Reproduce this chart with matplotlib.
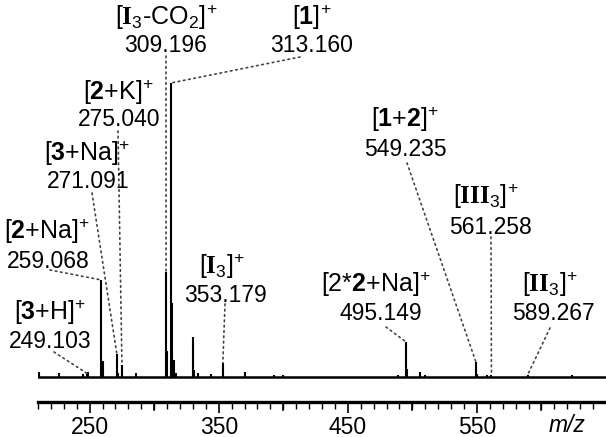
import matplotlib.pyplot as plt

plt.rcParams['font.family'] = ['Liberation Sans', 'DejaVu Sans']
plt.rcParams['mathtext.fontset'] = 'custom'
plt.rcParams['mathtext.rm'] = 'Liberation Sans'
plt.rcParams['mathtext.it'] = 'Liberation Sans:italic'
plt.rcParams['mathtext.bf'] = 'Liberation Sans:bold'
plt.rcParams['mathtext.tt'] = 'Liberation Serif:bold'

# spectrum peaks (m/z, relative intensity)
peak_mz = [210.5, 226, 245, 248, 249.1, 259.07, 260.1, 271.09, 272.1, 275.04,
           286, 309.20, 310.2, 313.16, 314.16, 315.2, 317, 329.9, 331, 334,
           344, 353.18, 370, 393, 400, 489, 495.15, 496.2, 506, 510,
           549.24, 550.2, 558, 561.26, 589.27, 624]
peak_int = [1.7, 1.4, 1.0, 1.0, 1.7, 33.0, 5.5, 7.8, 1.4, 4.1,
            1.4, 35.7, 9.0, 100.0, 25.2, 5.8, 1.4, 13.6, 2.4, 1.4,
            1.0, 4.8, 1.7, 0.7, 0.7, 0.7, 11.9, 2.7, 1.7, 0.7,
            5.1, 1.0, 0.7, 0.7, 0.7, 0.7]

# annotated ions
ion_labels = [r'[$\mathbf{3}$+H$]^{+}$', r'[$\mathbf{2}$+Na$]^{+}$', r'[$\mathbf{3}$+Na$]^{+}$',
              r'[$\mathbf{2}$+K$]^{+}$', r'[$\mathtt{I}_3$-CO$_2]^{+}$', r'[$\mathbf{1}]^{+}$',
              r'[$\mathtt{I}_3]^{+}$', r'[2*$\mathbf{2}$+Na$]^{+}$', r'[$\mathbf{1}$+$\mathbf{2}]^{+}$',
              r'[$\mathtt{III}_3]^{+}$', r'[$\mathtt{II}_3]^{+}$']
ion_mz = ['249.103', '259.068', '271.091', '275.040', '309.196', '313.160',
          '353.179', '495.149', '549.235', '561.258', '589.267']
ion_int = [0.9, 33.0, 7.8, 4.1, 35.7, 100.0, 4.8, 11.9, 5.1, 0.7, 0.7]

# label placement in pixels: label x, label y, number x, number y, leader start x, y
label_pos = [(50, 312, 50, 342, 54, 352),
             (47, 231, 48, 261, 50, 270),
             (87, 153, 88, 181, 92, 193),
             (118, 92, 119, 119, 118, 131),
             (166, 17, 166, 46, 166, 56),
             (312, 17, 312, 46, 300, 57),
             (222, 266, 225, 295, 225, 304),
             (376, 284, 381, 314, 386, 327),
             (405, 119, 405, 149, 407, 163),
             (486, 196, 490, 227, 491, 237),
             (550, 284, 553, 314, 550, 328)]

W, H = 606, 437
fig = plt.figure(figsize=(W / 100, H / 100), dpi=100)
ax = fig.add_axes([38 / W, 35 / H, 568 / W, 402 / H])
ax.set_xlim(210, 650)
ax.set_ylim(-8.5, 128.2)

ax.axhline(0, color='black', lw=1.8, zorder=2)
ax.vlines(peak_mz, 0, peak_int, color='black', lw=1.5, zorder=2)

for s in ['top', 'right', 'left']:
    ax.spines[s].set_visible(False)
ax.spines['bottom'].set_linewidth(2.4)
ax.set_yticks([])
ax.set_xticks([250, 350, 450, 550])
ax.set_xticks(range(210, 650, 10), minor=True)
ax.tick_params(axis='x', which='major', direction='out', length=8, width=1.2,
               labelsize=16.5, pad=2)
ax.tick_params(axis='x', which='minor', direction='out', length=5, width=1.0)
# unlabeled majors at 300, 400, ...
for m in [300, 400, 500, 600]:
    ax.plot([m, m], [-8.5, -11.2], color='black', lw=1.2, clip_on=False)

for lab, num, inten, mz, pos in zip(ion_labels, ion_mz, ion_int, ion_mz, label_pos):
    lx, ly, nx, ny, sx, sy = pos
    fig.text(lx / W, 1 - ly / H, lab, ha='center', va='center', fontsize=18)
    fig.text(nx / W, 1 - ny / H, num, ha='center', va='center', fontsize=16.5)
    ax.annotate('', xy=(float(mz), inten), xycoords='data',
                xytext=(sx / W, 1 - sy / H), textcoords='figure fraction',
                arrowprops=dict(arrowstyle='-', linestyle=(0, (1, 2.2)), color='#444444',
                                lw=1.2, shrinkA=0, shrinkB=0))

fig.text(567 / W, 1 - 426 / H, 'm/z', style='italic', ha='center', va='center', fontsize=16.5)

fig.savefig('out.png', dpi=100)
